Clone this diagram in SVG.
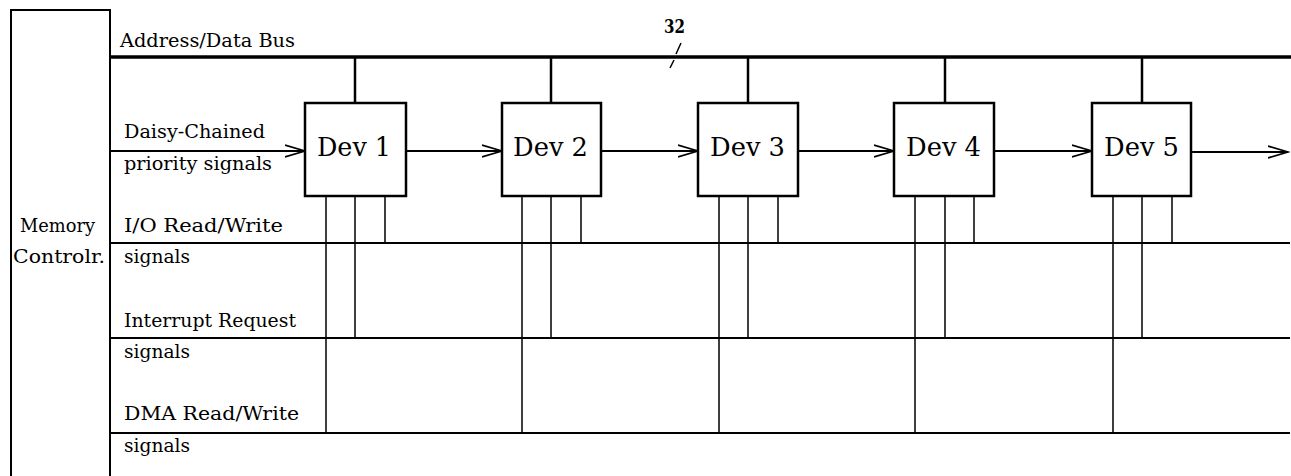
<svg xmlns="http://www.w3.org/2000/svg" width="1291" height="476" viewBox="0 0 1291 476">
<style>
.t{font-family:"DejaVu Serif","Liberation Serif",serif;font-size:18px;fill:#000}
.d{font-family:"DejaVu Serif","Liberation Serif",serif;font-size:26px;fill:#000}
.box{fill:#fff;stroke:#000;stroke-width:2.5}
.ln{stroke:#000;stroke-width:2;fill:none}
.vl{stroke:#000;stroke-width:1.5;fill:none}
.bus{stroke:#000;stroke-width:3.5;fill:none}
.tap{stroke:#000;stroke-width:2.5;fill:none}
.arr{stroke:#000;stroke-width:1.8;fill:none;marker-end:url(#ah)}
</style>
<defs>
<marker id="ah" markerUnits="userSpaceOnUse" markerWidth="22" markerHeight="14" refX="20" refY="7" orient="auto">
<path d="M0,1 L20,7 L0,13" fill="none" stroke="#000" stroke-width="1.8"/>
</marker>
</defs>
<rect width="1291" height="476" fill="#fff"/>
<g id="memctrl">
<path d="M11,476 V10 H110 V476" class="ln" stroke-width="2.5"/>
<text class="t" x="20" y="232" textLength="75" lengthAdjust="spacingAndGlyphs">Memory</text>
<text class="t" x="13" y="263" textLength="92" lengthAdjust="spacingAndGlyphs">Controlr.</text>
</g>
<g id="labels">
<text class="t" x="120" y="47" textLength="175" lengthAdjust="spacingAndGlyphs">Address/Data Bus</text>
<text class="t" x="124" y="138" textLength="141" lengthAdjust="spacingAndGlyphs">Daisy-Chained</text>
<text class="t" x="124" y="170" textLength="148" lengthAdjust="spacingAndGlyphs">priority signals</text>
<text class="t" x="124" y="232" textLength="159" lengthAdjust="spacingAndGlyphs">I/O Read/Write</text>
<text class="t" x="124" y="263" textLength="66" lengthAdjust="spacingAndGlyphs">signals</text>
<text class="t" x="124" y="327" textLength="172" lengthAdjust="spacingAndGlyphs">Interrupt Request</text>
<text class="t" x="124" y="358" textLength="66" lengthAdjust="spacingAndGlyphs">signals</text>
<text class="t" x="124" y="420" textLength="175" lengthAdjust="spacingAndGlyphs">DMA Read/Write</text>
<text class="t" x="124" y="452" textLength="66" lengthAdjust="spacingAndGlyphs">signals</text>
<text class="t" x="664" y="33" font-size="20" font-weight="bold" textLength="21" lengthAdjust="spacingAndGlyphs">32</text>
</g>
<g id="connectors">
<line class="bus" x1="110" y1="57" x2="1291" y2="57"/>
<line class="ln" x1="110" y1="243" x2="1290" y2="243"/>
<line class="ln" x1="110" y1="338" x2="1290" y2="338"/>
<line class="ln" x1="110" y1="433" x2="1290" y2="433"/>
<path class="vl" d="M681,43 L676,54 M674,60 L670,68"/>
<line class="tap" x1="355" y1="57" x2="355" y2="103"/>
<line class="tap" x1="551" y1="57" x2="551" y2="103"/>
<line class="tap" x1="748" y1="57" x2="748" y2="103"/>
<line class="tap" x1="945" y1="57" x2="945" y2="103"/>
<line class="tap" x1="1142" y1="57" x2="1142" y2="103"/>
<line class="arr" x1="110" y1="151" x2="305" y2="151"/>
<line class="arr" x1="406" y1="151" x2="502" y2="151"/>
<line class="arr" x1="601" y1="151" x2="698" y2="151"/>
<line class="arr" x1="798" y1="151" x2="894" y2="151"/>
<line class="arr" x1="994" y1="151" x2="1092" y2="151"/>
<line class="arr" x1="1191" y1="152" x2="1288" y2="152"/>
<path class="vl" d="M326,196 V433 M355,196 V338 M385,196 V243"/>
<path class="vl" d="M522,196 V433 M551,196 V338 M581,196 V243"/>
<path class="vl" d="M719,196 V433 M748,196 V338 M778,196 V243"/>
<path class="vl" d="M915,196 V433 M945,196 V338 M974,196 V243"/>
<path class="vl" d="M1113,196 V433 M1142,196 V338 M1172,196 V243"/>
</g>
<g id="dev1"><rect class="box" x="305" y="103" width="101" height="93"/><text class="d" x="317" y="156" textLength="74" lengthAdjust="spacingAndGlyphs">Dev 1</text></g>
<g id="dev2"><rect class="box" x="502" y="103" width="99" height="93"/><text class="d" x="513" y="156" textLength="75" lengthAdjust="spacingAndGlyphs">Dev 2</text></g>
<g id="dev3"><rect class="box" x="698" y="103" width="100" height="93"/><text class="d" x="710" y="156" textLength="75" lengthAdjust="spacingAndGlyphs">Dev 3</text></g>
<g id="dev4"><rect class="box" x="894" y="103" width="100" height="93"/><text class="d" x="906" y="156" textLength="75" lengthAdjust="spacingAndGlyphs">Dev 4</text></g>
<g id="dev5"><rect class="box" x="1092" y="103" width="99" height="93"/><text class="d" x="1104" y="156" textLength="75" lengthAdjust="spacingAndGlyphs">Dev 5</text></g>
</svg>
